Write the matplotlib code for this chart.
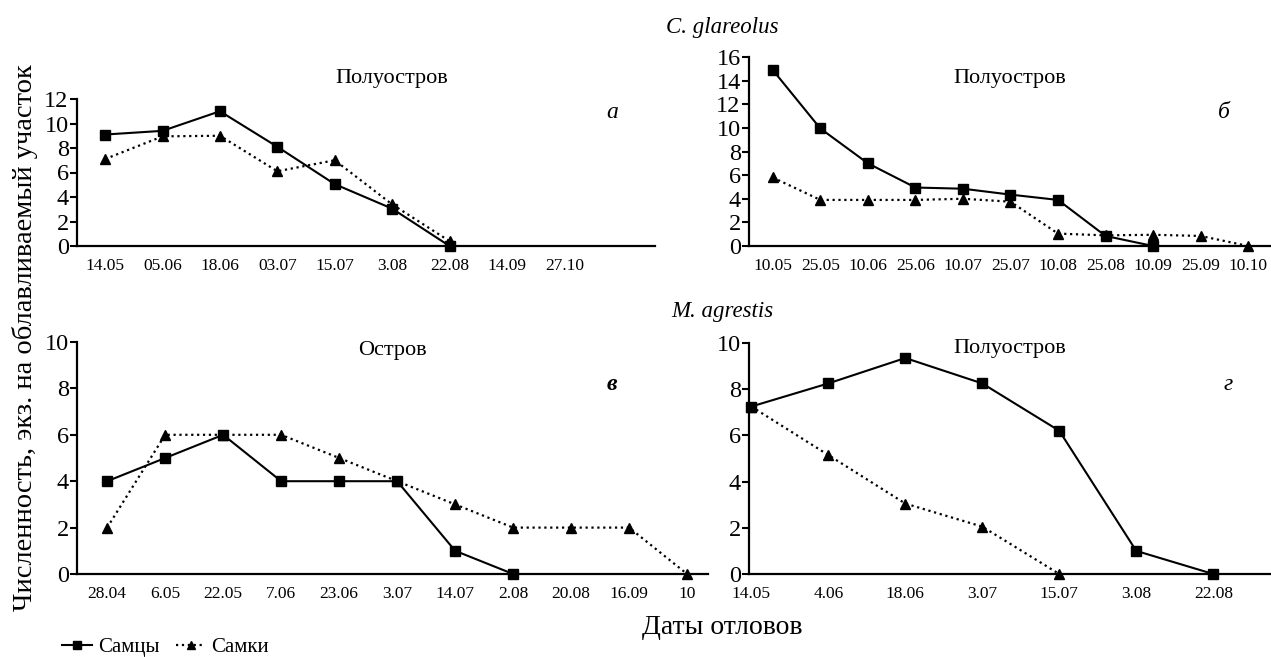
import matplotlib
matplotlib.use("Agg")
import matplotlib.pyplot as plt

plt.rcParams['font.family'] = ['Liberation Serif', 'DejaVu Serif']

# panel а: C. glareolus, Полуостров
dates_a = ["14.05", "05.06", "18.06", "03.07", "15.07", "3.08", "22.08", "14.09", "27.10"]
males_a = [9.1, 9.4, 11.0, 8.1, 5.05, 3.05, 0.0]
females_a = [7.1, 8.95, 9.0, 6.1, 7.0, 3.4, 0.4]

# panel б: C. glareolus, Полуостров
dates_b = ["10.05", "25.05", "10.06", "25.06", "10.07", "25.07", "10.08", "25.08", "10.09", "25.09", "10.10"]
males_b = [14.9, 9.95, 7.0, 4.95, 4.85, 4.35, 3.9, 0.85, 0.0]
females_b = [5.8, 3.9, 3.9, 3.9, 4.0, 3.75, 1.05, 0.9, 0.95, 0.85, 0.0]

# panel в: M. agrestis, Остров
dates_v = ["28.04", "6.05", "22.05", "7.06", "23.06", "3.07", "14.07", "2.08", "20.08", "16.09", "10"]
males_v = [4, 5, 6, 4, 4, 4, 1, 0]
females_v = [2, 6, 6, 6, 5, 4, 3, 2, 2, 2, 0]

# panel г: M. agrestis, Полуостров
dates_g = ["14.05", "4.06", "18.06", "3.07", "15.07", "3.08", "22.08"]
males_g = [7.25, 8.25, 9.35, 8.25, 6.2, 1.0, 0.0]
females_g = [7.25, 5.15, 3.05, 2.05, 0.0]

W, H = 1271, 657
fig = plt.figure(figsize=(W / 100, H / 100), dpi=100)


def rect(l, r, t, b):
    return [l / W, 1 - b / H, (r - l) / W, (b - t) / H]


def panel(pos, dates, males, females, ymax, xlim):
    ax = fig.add_axes(pos)
    lm, = ax.plot(range(len(males)), males, '-', color='black', lw=1.5,
                  marker='s', ms=7.5, clip_on=False, zorder=3)
    lf, = ax.plot(range(len(females)), females, ':', color='black', lw=1.6,
                  marker='^', ms=7.5, clip_on=False, zorder=3)
    ax.set_xlim(*xlim)
    ax.set_ylim(0, ymax)
    ax.set_xticks(range(len(dates)))
    ax.set_xticklabels(dates, fontsize=12.5)
    ax.set_yticks(range(0, ymax + 1, 2))
    ax.tick_params(axis='x', length=0, pad=8.5)
    ax.tick_params(axis='y', length=5, width=1.5, pad=1, labelsize=17.5)
    for s in ['top', 'right']:
        ax.spines[s].set_visible(False)
    for s in ['left', 'bottom']:
        ax.spines[s].set_linewidth(1.6)
    ax.patch.set_alpha(0)
    return lm, lf


panel(rect(77, 655, 99, 246), dates_a, males_a, females_a, 12, (-0.49, 9.58))
panel(rect(749, 1271, 57, 246), dates_b, males_b, females_b, 16, (-0.5, 10.48))
panel(rect(77, 708, 342, 574), dates_v, males_v, females_v, 10, (-0.52, 10.36))
lm, lf = panel(rect(749, 1271, 343, 574), dates_g, males_g, females_g, 10, (-0.03, 6.75))


def txt(x, y, s, **kw):
    fig.text(x / W, 1 - y / H, s, ha='center', va='center', **kw)


txt(722, 27, "C. glareolus", fontsize=16.5, style='italic')
txt(722, 312, "M. agrestis", fontsize=16.5, style='italic')
txt(392, 78, "Полуостров", fontsize=16)
txt(1010, 78, "Полуостров", fontsize=16)
txt(392, 350, "Остров", fontsize=16)
txt(1010, 349, "Полуостров", fontsize=16)
txt(612, 113, "а", fontsize=17, style='italic')
txt(1224, 113, "б", fontsize=17, style='italic')
txt(612, 385, "в", fontsize=17, style='italic', weight='bold')
txt(1228, 385, "г", fontsize=17, style='italic')
txt(722, 627, "Даты отловов", fontsize=20)
txt(25, 338, "Численность, экз. на облавливаемый участок", fontsize=20.5, rotation=90)

fig.legend([lm, lf], ["Самцы", "Самки"], loc='center left',
           bbox_to_anchor=(52 / W, 1 - 647 / H), ncol=2, frameon=False,
           fontsize=15, handlelength=1.4, handletextpad=0.3, columnspacing=0.8,
           borderpad=0, markerscale=0.8)

fig.savefig("out.png", dpi=100)
